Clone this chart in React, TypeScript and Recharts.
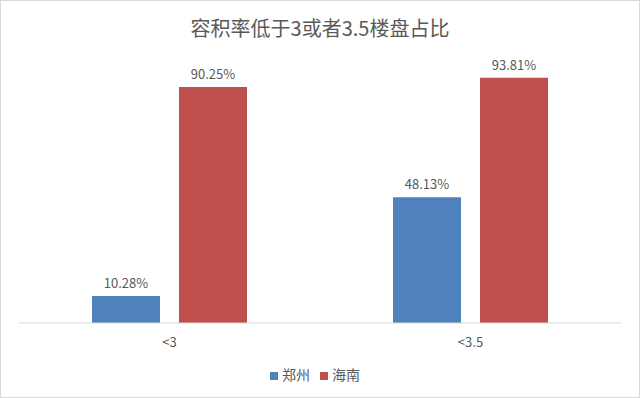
import { BarChart, Bar, XAxis, YAxis, Legend, LabelList } from 'recharts'

const categories = ['<3', '<3.5']
const zhengzhou = [10.28, 48.13]
const hainan = [90.25, 93.81]

const data = categories.map((c, i) => ({ name: c, zz: zhengzhou[i], hn: hainan[i] }))

const font = '"Noto Sans CJK SC", "Noto Sans", sans-serif'
const textColor = '#595959'

const fmt = (v: any) => `${Number(v).toFixed(2)}%`

export default function App() {
  return (
    <div
      style={{
        position: 'absolute',
        left: 0,
        top: 0,
        width: 638,
        height: 396,
        border: '1px solid #D9D9D9',
        background: '#fff',
        fontFamily: font,
      }}
    >
      <div
        style={{
          position: 'absolute',
          top: 12,
          width: '100%',
          textAlign: 'center',
          fontSize: 20,
          color: textColor,
        }}
      >
        容积率低于3或者3.5楼盘占比
      </div>
      <BarChart
        width={638}
        height={396}
        data={data}
        margin={{ top: 60.5, right: 18, left: 18, bottom: 14 }}
        barCategoryGap={73}
        barGap={19}
        style={{ fontFamily: font }}
      >
        <XAxis
          dataKey="name"
          axisLine={{ stroke: '#D9D9D9' }}
          tickLine={false}
          tick={{ fill: textColor, fontSize: 13, dy: 7 }}
          height={30}
        />
        <YAxis hide domain={[0, 100]} />
        <Legend
          verticalAlign="bottom"
          iconType="square"
          iconSize={8}
          height={30}
          itemSorter={null}
          wrapperStyle={{ bottom: 6 }}
          formatter={(value: string) => <span style={{ color: textColor, fontSize: 14 }}>{value}</span>}
        />
        <Bar dataKey="zz" name="郑州" fill="#4F81BD" barSize={68} isAnimationActive={false}>
          <LabelList dataKey="zz" position="top" formatter={fmt} fill={textColor} fontSize={13} offset={8} />
        </Bar>
        <Bar dataKey="hn" name="海南" fill="#C0504D" barSize={68} isAnimationActive={false}>
          <LabelList dataKey="hn" position="top" formatter={fmt} fill={textColor} fontSize={13} offset={8} />
        </Bar>
      </BarChart>
    </div>
  )
}
